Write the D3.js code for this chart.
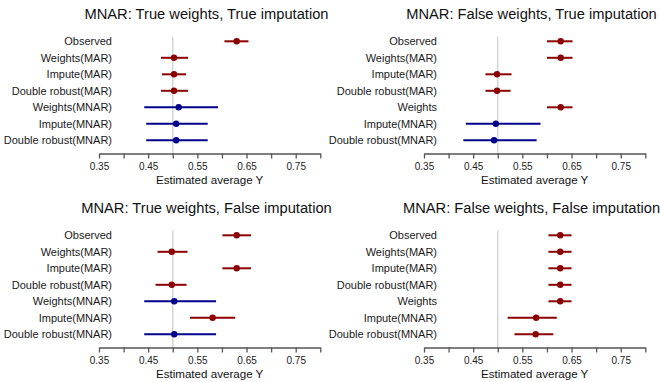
<!DOCTYPE html>
<html>
<head>
<meta charset="utf-8">
<script src="https://cdn.jsdelivr.net/npm/d3@7"></script>
<style>
  body { margin: 0; background: #fff; }
  svg { display: block; font-family: "Liberation Sans", Arial, sans-serif; }
</style>
</head>
<body>
<svg id="chart" width="660" height="382"></svg>
<script>
// row labels
const labelsMNAR = ["Observed", "Weights(MAR)", "Impute(MAR)", "Double robust(MAR)", "Weights(MNAR)", "Impute(MNAR)", "Double robust(MNAR)"];
const labelsW = ["Observed", "Weights(MAR)", "Impute(MAR)", "Double robust(MAR)", "Weights", "Impute(MNAR)", "Double robust(MNAR)"];

const titles = [
  "MNAR: True weights, True imputation",
  "MNAR: False weights, True imputation",
  "MNAR: True weights, False imputation",
  "MNAR: False weights, False imputation"
];

const trueValue = 0.5;
const xTicks = [0.35, 0.40, 0.45, 0.50, 0.55, 0.60, 0.65, 0.70, 0.75, 0.80];
const xTickLabels = [0.35, 0.45, 0.55, 0.65, 0.75];
const xTitle = "Estimated average Y";

// estimates and interval bounds, one array per panel
const est1 = [0.630, 0.5025, 0.5025, 0.5025, 0.512, 0.507, 0.507];
const lo1  = [0.605, 0.476, 0.478, 0.476, 0.442, 0.446, 0.446];
const hi1  = [0.654, 0.531, 0.527, 0.531, 0.592, 0.571, 0.571];
const grp1 = ["r", "r", "r", "r", "b", "b", "b"];

const est2 = [0.628, 0.628, 0.4985, 0.4985, 0.628, 0.496, 0.4925];
const lo2  = [0.600, 0.600, 0.475, 0.475, 0.600, 0.435, 0.430];
const hi2  = [0.652, 0.652, 0.528, 0.526, 0.652, 0.587, 0.579];
const grp2 = ["r", "r", "r", "r", "r", "b", "b"];

const est3 = [0.630, 0.498, 0.630, 0.498, 0.503, 0.581, 0.503];
const lo3  = [0.601, 0.469, 0.601, 0.465, 0.442, 0.535, 0.442];
const hi3  = [0.659, 0.530, 0.659, 0.528, 0.588, 0.627, 0.588];
const grp3 = ["r", "r", "r", "r", "b", "r", "b"];

const est4 = [0.627, 0.627, 0.627, 0.627, 0.627, 0.578, 0.577];
const lo4  = [0.603, 0.603, 0.603, 0.603, 0.603, 0.520, 0.534];
const hi4  = [0.650, 0.650, 0.650, 0.650, 0.650, 0.620, 0.613];
const grp4 = ["r", "r", "r", "r", "r", "r", "r"];

const colors = { r: "#8b0000", b: "#00008b" };

const panels = [
  { title: titles[0], labels: labelsMNAR, est: est1, lo: lo1, hi: hi1, grp: grp1, dx: 0, dy: 0 },
  { title: titles[1], labels: labelsW, est: est2, lo: lo2, hi: hi2, grp: grp2, dx: 325, dy: 0 },
  { title: titles[2], labels: labelsMNAR, est: est3, lo: lo3, hi: hi3, grp: grp3, dx: 0, dy: 194 },
  { title: titles[3], labels: labelsW, est: est4, lo: lo4, hi: hi4, grp: grp4, dx: 325, dy: 194 }
];

const svg = d3.select("#chart");

const x = d3.scaleLinear().domain([0.35, 0.80]).range([99, 320.3]);
const axisY = 153.5;

panels.forEach(p => {
  const g = svg.append("g").attr("transform", `translate(${p.dx},${p.dy})`);

  const rows = p.labels.map((label, i) => ({
    label, est: p.est[i], lo: p.lo[i], hi: p.hi[i], grp: p.grp[i]
  }));

  const y = d3.scalePoint().domain(p.labels).range([41.3, 140.3]);

  // title
  g.append("text")
    .attr("x", 206.5)
    .attr("y", 18.5)
    .attr("text-anchor", "middle")
    .attr("font-size", 14.7)
    .attr("fill", "#111")
    .text(p.title);

  // reference line at the true value
  g.append("line")
    .attr("x1", x(trueValue)).attr("x2", x(trueValue))
    .attr("y1", 36.5).attr("y2", axisY)
    .attr("stroke", "#d0d0d0")
    .attr("stroke-width", 1.3);

  // row labels
  g.selectAll(".row-label")
    .data(rows)
    .enter()
    .append("text")
    .attr("class", "row-label")
    .attr("x", 112)
    .attr("y", d => y(d.label))
    .attr("dy", "0.36em")
    .attr("text-anchor", "end")
    .attr("font-size", 11)
    .attr("fill", "#1a1a1a")
    .text(d => d.label);

  // intervals
  g.selectAll(".ci")
    .data(rows)
    .enter()
    .append("line")
    .attr("class", "ci")
    .attr("x1", d => x(d.lo))
    .attr("x2", d => x(d.hi))
    .attr("y1", d => y(d.label))
    .attr("y2", d => y(d.label))
    .attr("stroke", d => colors[d.grp])
    .attr("stroke-width", 2);

  // point estimates
  g.selectAll(".dot")
    .data(rows)
    .enter()
    .append("circle")
    .attr("class", "dot")
    .attr("cx", d => x(d.est))
    .attr("cy", d => y(d.label))
    .attr("r", 3.2)
    .attr("fill", d => colors[d.grp]);

  // x axis
  const ax = g.append("g")
    .attr("transform", `translate(0,${axisY})`)
    .call(d3.axisBottom(x)
      .tickValues(xTicks)
      .tickSize(5)
      .tickSizeOuter(0)
      .tickPadding(4)
      .tickFormat(d => xTickLabels.some(v => Math.abs(v - d) < 1e-9) ? d3.format(".2f")(d) : ""));

  ax.select(".domain").attr("stroke", "#555").attr("stroke-width", 1.3);
  ax.selectAll(".tick line").attr("stroke", "#555").attr("stroke-width", 1.3);
  ax.selectAll(".tick text")
    .attr("font-size", 10)
    .attr("font-family", "Liberation Sans, Arial, sans-serif")
    .attr("fill", "#222");

  g.append("text")
    .attr("x", (x.range()[0] + x.range()[1]) / 2)
    .attr("y", 183.5)
    .attr("text-anchor", "middle")
    .attr("font-size", 11.6)
    .attr("fill", "#111")
    .text(xTitle);
});
</script>
</body>
</html>
